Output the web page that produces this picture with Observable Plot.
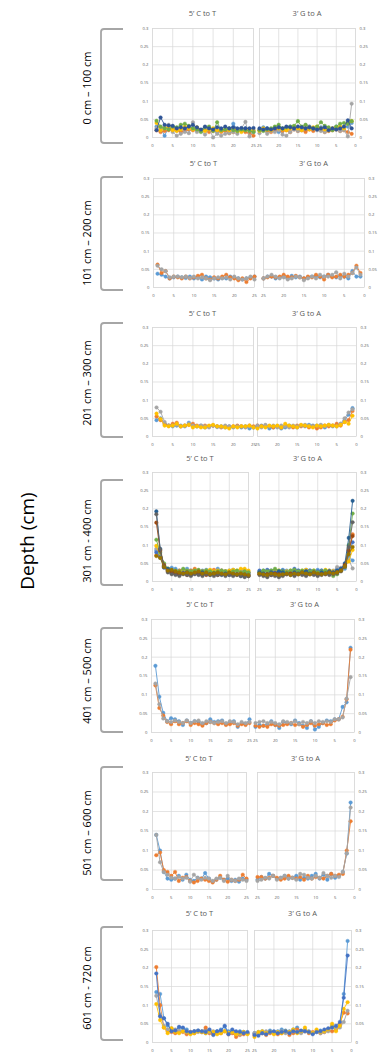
<!DOCTYPE html>
<html><head><meta charset="utf-8">
<script src="https://cdn.jsdelivr.net/npm/d3@7"></script>
<script src="https://cdn.jsdelivr.net/npm/@observablehq/plot@0.6"></script>
<style>
body{margin:0;background:#fff;}
#wrap{position:relative;width:386px;height:1055px;overflow:hidden;font-family:"Open Sans",Lato,sans-serif;font-weight:400;}
#wrap svg{position:absolute;}
</style></head><body><div id="wrap"></div>
<script>
const positions = [1,2,3,4,5,6,7,8,9,10,11,12,13,14,15,16,17,18,19,20,21,22,23,24,25];
const xTicks = [0,5,10,15,20,25];
const yTicks = [0,0.05,0.1,0.15,0.2,0.25,0.3];
const depthLabels = ["0 cm – 100 cm","101 cm – 200 cm","201 cm – 300 cm","301 cm - 400 cm","401 cm – 500 cm","501 cm – 600 cm","601 cm - 720 cm"];
const panelTitles = ["5’ C to T","3’ G to A"];
const axisTitle = "Depth (cm)";

// Row 1: 0-100 cm
const row1Colors = ["#5B9BD5","#ED7D31","#A5A5A5","#FFC000","#70AD47","#2E5496"];
const row1CT = [
[.030,.025,.005,.028,.022,.020,.018,.025,.022,.030,.020,.018,.022,.025,.020,.015,.022,.020,.018,.038,.022,.020,.025,.022,.015],
[.020,.015,.018,.020,.025,.020,.015,.018,.022,.020,.025,.018,.020,.015,.018,.020,.015,.018,.012,.015,.020,.018,.015,.012,.005],
[.025,.020,.030,.035,.015,.005,.010,.015,.012,.042,.015,.020,.008,.025,.000,.010,.005,.010,.012,.015,.010,.025,.043,.003,.020],
[.040,.020,.025,.030,.020,.018,.022,.030,.025,.022,.028,.020,.018,.022,.025,.020,.018,.022,.020,.025,.018,.015,.020,.022,.018],
[.046,.030,.025,.022,.030,.028,.035,.038,.032,.025,.022,.015,.028,.030,.018,.042,.020,.022,.025,.020,.018,.022,.020,.018,.015],
[.020,.055,.035,.033,.032,.025,.028,.025,.030,.035,.028,.022,.030,.025,.022,.028,.025,.030,.025,.028,.025,.026,.025,.025,.026]];
const row1GA = [
[.040,.030,.028,.025,.030,.022,.020,.025,.028,.022,.025,.030,.020,.025,.022,.028,.030,.025,.018,.015,.022,.020,.025,.028,.022],
[.010,.015,.020,.018,.022,.020,.018,.015,.020,.025,.018,.022,.015,.020,.018,.022,.015,.020,.018,.025,.020,.015,.018,.022,.020],
[.093,.003,.020,.018,.022,.025,.020,.015,.018,.020,.025,.030,.034,.020,.018,.022,.015,.005,.008,.020,.015,.018,.010,.020,.012],
[.045,.040,.025,.030,.028,.025,.020,.022,.025,.030,.028,.022,.025,.020,.025,.030,.025,.020,.022,.025,.028,.020,.022,.025,.018],
[.045,.038,.040,.038,.030,.020,.028,.032,.042,.030,.025,.028,.035,.030,.045,.032,.030,.028,.025,.035,.030,.025,.022,.018,.020],
[.025,.047,.030,.025,.022,.025,.020,.028,.025,.022,.025,.028,.025,.028,.030,.025,.028,.030,.025,.028,.025,.022,.025,.022,.025]];

// Row 2: 101-200 cm
const row2Colors = ["#5B9BD5","#ED7D31","#A5A5A5"];
const row2CT = [
[.038,.035,.030,.025,.028,.030,.028,.026,.030,.025,.028,.022,.030,.028,.025,.022,.026,.025,.030,.028,.025,.022,.025,.028,.030],
[.063,.040,.045,.025,.030,.028,.025,.030,.025,.028,.032,.035,.025,.022,.028,.025,.030,.035,.028,.025,.020,.025,.015,.025,.030],
[.060,.050,.045,.028,.030,.030,.028,.030,.026,.030,.025,.028,.025,.020,.025,.028,.025,.028,.022,.030,.025,.022,.025,.030,.022]];
const row2GA = [
[.030,.030,.045,.025,.030,.032,.028,.030,.035,.030,.028,.032,.030,.028,.025,.030,.028,.032,.025,.030,.028,.025,.030,.030,.025],
[.040,.060,.040,.035,.030,.035,.030,.028,.035,.022,.030,.035,.028,.030,.025,.028,.032,.028,.030,.035,.030,.028,.030,.028,.025],
[.035,.055,.040,.030,.038,.025,.042,.035,.030,.030,.035,.025,.030,.025,.020,.028,.030,.025,.022,.028,.025,.030,.035,.030,.025]];

// Row 3: 201-300 cm
const row3Colors = ["#5B9BD5","#ED7D31","#A5A5A5","#FFC000"];
const row3CT = [
[.045,.050,.035,.030,.028,.030,.030,.028,.038,.030,.028,.030,.025,.028,.030,.026,.028,.025,.028,.026,.028,.025,.028,.022,.025],
[.055,.045,.035,.030,.035,.038,.028,.030,.032,.035,.030,.028,.030,.028,.030,.028,.025,.028,.026,.028,.030,.028,.026,.030,.028],
[.080,.068,.040,.030,.030,.032,.028,.030,.035,.030,.028,.030,.028,.025,.030,.028,.026,.030,.028,.025,.028,.028,.025,.028,.025],
[.063,.048,.030,.028,.030,.035,.028,.030,.032,.025,.028,.025,.025,.030,.032,.028,.028,.025,.022,.028,.025,.028,.028,.030,.025]];
const row3GA = [
[.078,.060,.045,.035,.030,.028,.030,.025,.030,.028,.030,.032,.028,.030,.025,.028,.030,.025,.022,.028,.025,.022,.028,.030,.028],
[.070,.045,.040,.030,.035,.030,.028,.030,.025,.022,.028,.025,.030,.028,.030,.025,.028,.030,.025,.028,.025,.028,.030,.028,.030],
[.075,.066,.050,.035,.028,.030,.032,.028,.032,.030,.028,.030,.032,.030,.028,.030,.025,.028,.030,.025,.030,.028,.032,.025,.030],
[.057,.035,.040,.032,.028,.030,.032,.030,.028,.030,.025,.028,.030,.032,.025,.028,.030,.035,.025,.030,.028,.030,.025,.028,.022]];

// Row 4: 301-400 cm
const row4Colors = ["#5B9BD5","#ED7D31","#A5A5A5","#FFC000","#4472C4","#70AD47","#255E91","#9E480E","#636363","#997300"];
const row4CT = [
[.085,.065,.045,.035,.038,.035,.030,.028,.035,.030,.032,.028,.030,.032,.030,.028,.035,.030,.028,.030,.032,.028,.030,.028,.025],
[.072,.070,.040,.030,.028,.025,.030,.032,.028,.030,.035,.030,.028,.025,.030,.032,.028,.030,.025,.028,.030,.025,.028,.030,.025],
[.090,.075,.045,.030,.025,.028,.022,.025,.030,.025,.028,.030,.025,.028,.022,.025,.030,.025,.028,.025,.022,.028,.032,.025,.022],
[.098,.070,.040,.035,.030,.028,.025,.030,.028,.025,.030,.028,.025,.030,.032,.028,.030,.025,.028,.030,.032,.030,.035,.035,.030],
[.080,.068,.038,.030,.025,.022,.020,.025,.022,.020,.025,.022,.020,.025,.022,.020,.022,.025,.020,.018,.022,.020,.018,.022,.020],
[.115,.080,.050,.035,.030,.030,.028,.035,.030,.028,.030,.032,.028,.030,.028,.025,.028,.030,.028,.025,.028,.030,.025,.028,.025],
[.193,.090,.040,.035,.030,.025,.020,.022,.025,.018,.022,.020,.025,.022,.018,.022,.020,.018,.022,.020,.018,.020,.015,.018,.015],
[.162,.085,.045,.028,.025,.022,.020,.022,.018,.020,.022,.025,.020,.018,.020,.022,.018,.020,.018,.022,.020,.018,.020,.018,.015],
[.185,.088,.042,.025,.020,.018,.015,.020,.018,.015,.020,.018,.015,.020,.018,.015,.018,.020,.015,.018,.015,.018,.015,.012,.015],
[.070,.065,.040,.030,.032,.028,.025,.022,.025,.022,.025,.028,.022,.025,.020,.022,.025,.022,.020,.025,.022,.020,.022,.020,.018]];
const row4GA = [
[.058,.070,.035,.030,.035,.028,.030,.025,.030,.032,.028,.030,.032,.028,.030,.025,.028,.030,.032,.028,.030,.028,.025,.030,.028],
[.130,.090,.045,.030,.025,.022,.025,.020,.022,.025,.020,.022,.025,.020,.022,.018,.020,.022,.025,.020,.018,.022,.020,.022,.020],
[.036,.060,.040,.038,.040,.030,.025,.028,.025,.022,.025,.028,.022,.025,.028,.022,.020,.025,.022,.020,.025,.018,.022,.020,.025],
[.087,.055,.040,.030,.025,.028,.030,.032,.028,.025,.030,.028,.032,.030,.028,.025,.030,.028,.025,.030,.028,.025,.030,.028,.025],
[.108,.080,.045,.035,.030,.025,.028,.025,.030,.028,.025,.030,.028,.025,.030,.035,.028,.025,.030,.028,.025,.030,.032,.028,.030],
[.187,.100,.040,.030,.020,.015,.025,.030,.028,.025,.030,.028,.025,.030,.028,.032,.030,.025,.028,.030,.035,.030,.028,.030,.025],
[.222,.120,.050,.035,.030,.025,.028,.022,.025,.020,.025,.022,.028,.025,.022,.025,.020,.022,.025,.028,.022,.025,.020,.022,.025],
[.125,.085,.045,.030,.025,.022,.020,.022,.020,.018,.022,.020,.018,.022,.020,.018,.022,.020,.018,.020,.022,.018,.020,.018,.020],
[.163,.095,.040,.028,.022,.020,.018,.020,.018,.015,.018,.020,.015,.018,.020,.015,.018,.020,.015,.012,.015,.018,.012,.015,.018],
[.095,.075,.042,.030,.025,.022,.025,.022,.020,.022,.025,.020,.022,.025,.020,.022,.018,.022,.020,.018,.020,.022,.018,.020,.022]];

// Row 5: 401-500 cm
const row5Colors = ["#5B9BD5","#ED7D31","#A5A5A5"];
const row5CT = [
[.177,.095,.052,.030,.038,.035,.030,.020,.032,.025,.030,.028,.022,.025,.035,.028,.030,.032,.022,.028,.030,.015,.025,.022,.035],
[.125,.065,.045,.028,.022,.030,.022,.025,.030,.020,.025,.022,.018,.025,.028,.025,.022,.025,.020,.022,.025,.018,.022,.020,.025],
[.130,.075,.037,.030,.028,.032,.028,.025,.032,.025,.030,.032,.025,.030,.028,.025,.028,.030,.025,.030,.028,.022,.028,.025,.028]];
const row5GA = [
[.225,.080,.068,.035,.035,.030,.032,.025,.015,.008,.030,.012,.018,.025,.032,.022,.025,.028,.012,.020,.030,.022,.018,.020,.015],
[.220,.088,.042,.035,.032,.022,.020,.025,.022,.018,.025,.020,.015,.022,.020,.025,.022,.020,.018,.020,.022,.015,.018,.015,.018],
[.147,.090,.040,.035,.035,.028,.030,.028,.030,.025,.030,.025,.028,.022,.030,.025,.028,.030,.022,.025,.028,.025,.030,.028,.025]];

// Row 6: 501-600 cm
const row6Colors = ["#5B9BD5","#ED7D31","#A5A5A5"];
const row6CT = [
[.140,.100,.045,.028,.025,.028,.035,.025,.038,.025,.022,.030,.028,.042,.028,.020,.025,.030,.025,.028,.022,.025,.020,.028,.025],
[.088,.095,.050,.045,.035,.045,.022,.030,.032,.022,.018,.022,.028,.025,.022,.018,.025,.035,.025,.020,.025,.022,.025,.038,.028],
[.140,.070,.045,.038,.030,.028,.032,.028,.030,.020,.038,.030,.025,.030,.028,.022,.028,.030,.022,.035,.025,.022,.028,.025,.022]];
const row6GA = [
[.223,.092,.045,.035,.030,.040,.025,.038,.028,.040,.035,.028,.030,.025,.035,.030,.028,.035,.030,.028,.035,.040,.028,.032,.025],
[.175,.100,.040,.038,.035,.040,.035,.028,.030,.032,.028,.035,.025,.032,.028,.030,.035,.028,.025,.030,.035,.030,.028,.032,.032],
[.210,.093,.045,.032,.035,.030,.035,.042,.030,.035,.028,.030,.038,.040,.025,.030,.028,.035,.030,.025,.035,.028,.030,.025,.022]];

// Row 7: 601-720 cm
const row7Colors = ["#5B9BD5","#ED7D31","#A5A5A5","#FFC000","#4472C4"];
const row7CT = [
[.135,.130,.065,.045,.035,.030,.040,.038,.035,.025,.030,.032,.028,.035,.030,.025,.030,.035,.042,.030,.032,.025,.030,.028,.025],
[.202,.100,.040,.030,.028,.025,.030,.028,.022,.028,.025,.030,.028,.040,.025,.022,.028,.025,.030,.022,.025,.015,.020,.022,.025],
[.125,.075,.045,.035,.038,.035,.032,.030,.028,.025,.030,.028,.030,.025,.028,.030,.025,.028,.030,.025,.028,.025,.022,.028,.025],
[.103,.060,.040,.025,.038,.028,.025,.030,.028,.022,.025,.030,.028,.025,.030,.028,.022,.025,.030,.025,.028,.022,.025,.028,.022],
[.185,.070,.065,.050,.030,.032,.042,.040,.030,.028,.030,.032,.030,.028,.035,.020,.030,.032,.045,.022,.035,.030,.028,.025,.028]];
const row7GA = [
[.272,.130,.045,.040,.045,.035,.030,.032,.028,.025,.030,.035,.030,.040,.035,.030,.032,.035,.030,.028,.032,.025,.030,.028,.025],
[.078,.080,.050,.035,.030,.032,.028,.025,.030,.028,.025,.030,.028,.035,.025,.020,.028,.025,.022,.028,.025,.020,.025,.022,.020],
[.085,.055,.040,.035,.040,.030,.028,.025,.030,.025,.028,.030,.025,.028,.030,.028,.025,.030,.028,.025,.028,.030,.025,.022,.025],
[.108,.090,.045,.030,.050,.035,.030,.028,.035,.025,.028,.040,.030,.025,.035,.028,.030,.025,.028,.022,.028,.025,.030,.028,.015],
[.233,.120,.055,.045,.040,.038,.035,.030,.028,.022,.028,.030,.032,.028,.030,.025,.030,.028,.025,.030,.028,.022,.025,.018,.020]];

const rows = [
  {ct: row1CT, ga: row1GA, colors: row1Colors},
  {ct: row2CT, ga: row2GA, colors: row2Colors},
  {ct: row3CT, ga: row3GA, colors: row3Colors},
  {ct: row4CT, ga: row4GA, colors: row4Colors},
  {ct: row5CT, ga: row5GA, colors: row5Colors},
  {ct: row6CT, ga: row6GA, colors: row6Colors},
  {ct: row7CT, ga: row7GA, colors: row7Colors}
];

// layout (pixel frames in page coordinates)
const layout = [
  {L:[152,253], R:[259,355], y:[28,137], title:13, lab:88, br:[29,143]},
  {L:[153,254], R:[263,364], y:[178,287], title:163, lab:243, br:[177,290]},
  {L:[152,253], R:[257,356], y:[327,436], title:313, lab:383, br:[323,437]},
  {L:[152,248], R:[259,356], y:[472,581], title:458, lab:541, br:[480,585]},
  {L:[151,249], R:[255,354], y:[619,732], title:604, lab:681, br:[628,732]},
  {L:[152,246], R:[257,354], y:[772,889], title:758, lab:833, br:[767,880]},
  {L:[152,247], R:[254,351], y:[930,1042], title:913, lab:988, br:[927,1040]}
];

const FONT = '"Open Sans", Lato, sans-serif';
const wrap = document.getElementById("wrap");

function panel(series, colors, side, fx, fy) {
  const mL = side === "L" ? 20 : 2, mR = side === "L" ? 2 : 20, mT = 3, mB = 16;
  const w = fx[1] - fx[0] + mL + mR, h = fy[1] - fy[0] + mT + mB;
  const marks = [
    Plot.gridX(xTicks, {stroke: "#d9d9d9", strokeOpacity: 1, strokeWidth: 0.7}),
    Plot.gridY(yTicks, {stroke: "#d9d9d9", strokeOpacity: 1, strokeWidth: 0.7}),
    Plot.frame({stroke: "#d9d9d9", strokeWidth: 0.7}),
    Plot.axisX(xTicks, {tickSize: 0, tickPadding: 6.5, fontSize: 4.2, fill: "#595959", label: null, tickFormat: d => String(d)}),
    Plot.axisY(yTicks, {anchor: side === "L" ? "left" : "right", tickSize: 0, tickPadding: 4, fontSize: 4.2, fill: "#595959", label: null, tickFormat: d => String(d)})
  ];
  series.forEach((vals, i) => {
    const data = vals.map((v, j) => ({pos: positions[j], v}));
    marks.push(Plot.line(data, {x: "pos", y: "v", stroke: colors[i], strokeWidth: 0.9}));
    marks.push(Plot.dot(data, {x: "pos", y: "v", fill: colors[i], stroke: colors[i], strokeWidth: 0.4, r: 1.8}));
  });
  const svg = Plot.plot({
    width: w, height: h, marginLeft: mL, marginRight: mR, marginTop: mT, marginBottom: mB,
    style: {background: "transparent", fontFamily: FONT, overflow: "visible"},
    x: {domain: side === "L" ? [0, 25] : [25, 0], label: null},
    y: {domain: [0, 0.3], label: null},
    marks
  });
  svg.style.position = "absolute";
  svg.style.left = (fx[0] - mL) + "px";
  svg.style.top = (fy[0] - mT) + "px";
  wrap.appendChild(svg);
}

rows.forEach((r, k) => {
  const g = layout[k];
  panel(r.ct, r.colors, "L", g.L, g.y);
  panel(r.ga, r.colors, "R", g.R, g.y);
});

// overlay annotations
const ns = "http://www.w3.org/2000/svg";
const ov = document.createElementNS(ns, "svg");
ov.setAttribute("width", 386); ov.setAttribute("height", 1055);
ov.style.left = "0px"; ov.style.top = "0px"; ov.style.fontFamily = FONT;
function txt(x, y, s, size, rot, fill) {
  const t = document.createElementNS(ns, "text");
  t.setAttribute("x", x); t.setAttribute("y", y);
  t.setAttribute("text-anchor", "middle");
  t.setAttribute("dominant-baseline", "central");
  t.setAttribute("font-size", size);
  t.setAttribute("font-weight", 400);
  t.setAttribute("fill", fill);
  if (rot) t.setAttribute("transform", `rotate(-90 ${x} ${y})`);
  t.textContent = s;
  ov.appendChild(t);
}
layout.forEach((g, k) => {
  txt((g.L[0] + g.L[1]) / 2, g.title, panelTitles[0], 7.5, false, "#595959");
  txt((g.R[0] + g.R[1]) / 2, g.title, panelTitles[1], 7.5, false, "#595959");
  txt(86, g.lab, depthLabels[k], 11, true, "#000");
  const x0 = 101, x1 = 123, y0 = g.br[0], y1 = g.br[1], r = 3;
  const p = document.createElementNS(ns, "path");
  p.setAttribute("d", `M${x1},${y0} L${x0 + r},${y0} Q${x0},${y0} ${x0},${y0 + r} L${x0},${y1 - r} Q${x0},${y1} ${x0 + r},${y1} L${x1},${y1}`);
  p.setAttribute("fill", "none"); p.setAttribute("stroke", "#a6a6a6"); p.setAttribute("stroke-width", 1.8);
  ov.appendChild(p);
});
txt(27, 541, axisTitle, 19, true, "#000");
wrap.appendChild(ov);
</script></body></html>
